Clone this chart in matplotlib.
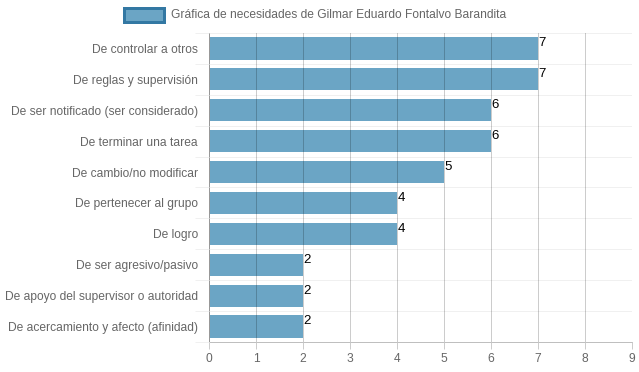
import matplotlib
matplotlib.use("Agg")
import matplotlib.pyplot as plt
from matplotlib.patches import Rectangle
import numpy as np

categories = [
    "De controlar a otros",
    "De reglas y supervisión",
    "De ser notificado (ser considerado)",
    "De terminar una tarea",
    "De cambio/no modificar",
    "De pertenecer al grupo",
    "De logro",
    "De ser agresivo/pasivo",
    "De apoyo del supervisor o autoridad",
    "De acercamiento y afecto (afinidad)",
]
values = [7, 7, 6, 6, 5, 4, 4, 2, 2, 2]
legend_label = "Gráfica de necesidades de Gilmar Eduardo Fontalvo Barandita"
x_ticks = list(range(0, 10))

W, H = 639, 372
PX = 0.72  # points per pixel at dpi 100

plt.rcParams['font.family'] = ['Liberation Sans', 'DejaVu Sans']

bar_color = (0.42, 0.647, 0.773)
edge_color = (0.20, 0.47, 0.64)

fig = plt.figure(figsize=(W / 100, H / 100), dpi=100)
ax = fig.add_axes([209 / W, 1 - 342 / H, (632 - 209) / W, (342 - 33) / H])

n = len(categories)
y = np.arange(n)
ax.barh(y, values, height=0.72, color=bar_color, zorder=1)

ax.set_xlim(0, 9)
ax.set_ylim(n - 0.5, -0.5)

ax.set_xticks(x_ticks)
ax.set_xticklabels([str(t) for t in x_ticks])
ax.set_yticks(y)
ax.set_yticklabels(categories)
ax.set_yticks(np.arange(n + 1) - 0.5, minor=True)

ax.tick_params(axis='x', length=5, width=PX, color='#cccccc', pad=3,
               labelsize=12 * PX, labelcolor='#666666')
ax.tick_params(axis='y', which='major', length=0, pad=8,
               labelsize=12 * PX, labelcolor='#666666')
ax.tick_params(axis='y', which='minor', length=10, width=PX, color='#f0f0f0')

ax.grid(axis='x', color='black', alpha=0.2, linewidth=PX, zorder=2)
ax.grid(axis='y', which='minor', color='black', alpha=0.06, linewidth=PX, zorder=0)
ax.set_axisbelow(False)

for s in ['top', 'right']:
    ax.spines[s].set_visible(False)
for s in ['left', 'bottom']:
    ax.spines[s].set_color('#bfbfbf')
    ax.spines[s].set_linewidth(PX)

for yi, v in zip(y, values):
    ax.text(v + 0.01, yi - 0.36, str(v), ha='left', va='top',
            fontsize=9.5, color='black', zorder=3)

# legend box and label
fig.patches.append(Rectangle((124 / W, 1 - 22 / H), 40 / W, 14 / H,
                             transform=fig.transFigure, facecolor=bar_color,
                             edgecolor=edge_color, linewidth=3 * PX))
fig.text(171 / W, 1 - 15 / H, legend_label, ha='left', va='center',
         fontsize=12 * PX, color='#666666')

fig.savefig("out.png", dpi=100)
